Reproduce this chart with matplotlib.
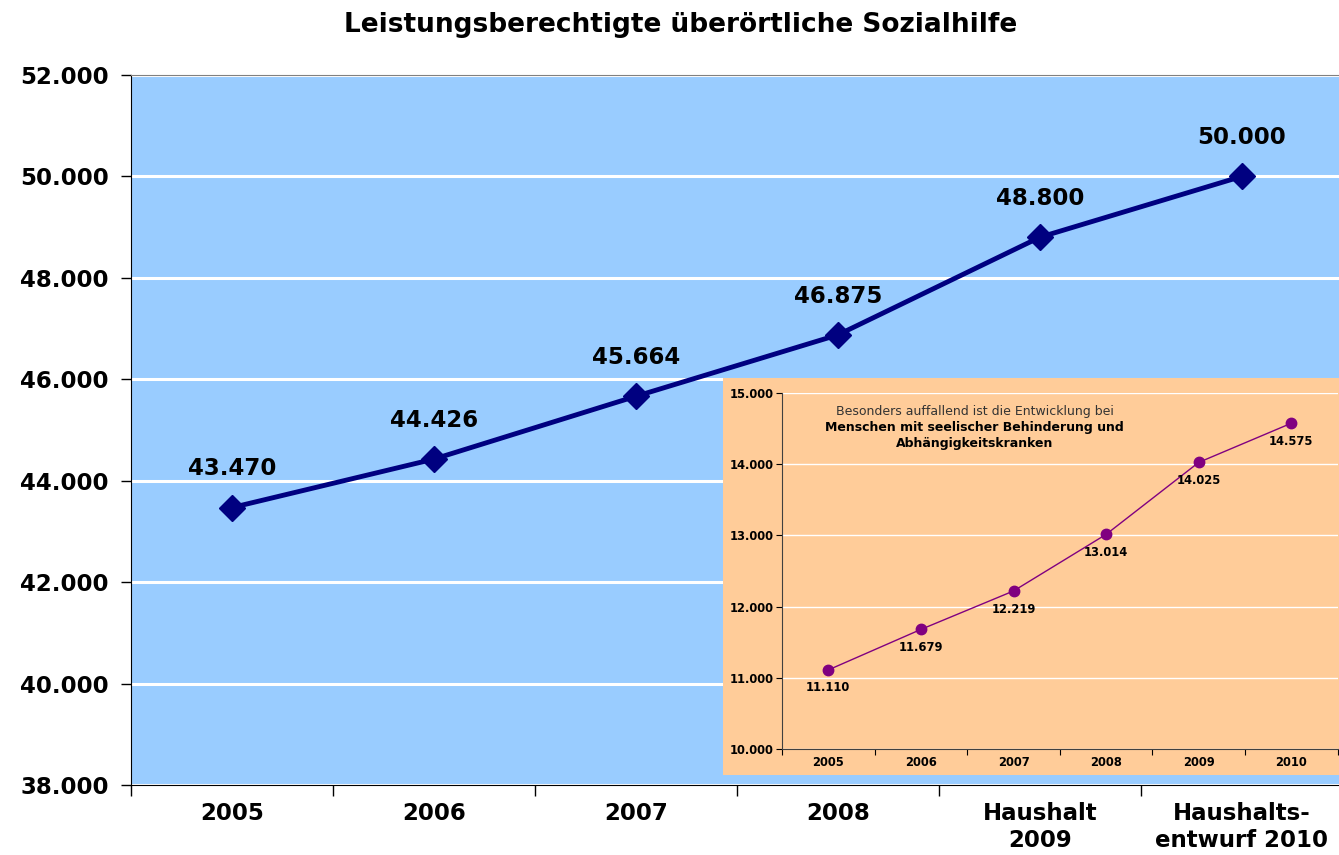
import matplotlib
matplotlib.use('Agg')
import matplotlib.pyplot as plt

# Main chart data.
categories = ['2005', '2006', '2007', '2008', 'Haushalt\n2009', 'Haushalts-\nentwurf 2010']
values = [43470, 44426, 45664, 46875, 48800, 50000]
value_labels = ['43.470', '44.426', '45.664', '46.875', '48.800', '50.000']
y_ticks = [38000, 40000, 42000, 44000, 46000, 48000, 50000, 52000]
y_tick_labels = ['38.000', '40.000', '42.000', '44.000', '46.000', '48.000', '50.000', '52.000']

# Inset data.
inset_years = ['2005', '2006', '2007', '2008', '2009', '2010']
inset_values = [11110, 11679, 12219, 13014, 14025, 14575]
inset_labels = ['11.110', '11.679', '12.219', '13.014', '14.025', '14.575']
inset_ticks = [10000, 11000, 12000, 13000, 14000, 15000]
inset_tick_labels = ['10.000', '11.000', '12.000', '13.000', '14.000', '15.000']

plt.rcParams['font.family'] = ['DejaVu Sans']

fig = plt.figure(figsize=(13.39, 8.55), dpi=100)
fig.patch.set_facecolor('white')

# Main axes.
ax = fig.add_axes([0.0978, 0.0819, 0.905, 0.8304])
ax.set_facecolor('#99CCFF')
x = list(range(len(values)))
ax.plot(x, values, color='#000080', lw=3.5, marker='D', markersize=13,
        markerfacecolor='#000080', markeredgecolor='#000080', zorder=3)
for xi, v, lab in zip(x, values, value_labels):
    ax.annotate(lab, (xi, v), xytext=(0, 28), textcoords='offset points',
                ha='center', va='center', fontsize=16.5, fontweight='bold', color='black')

ax.set_xlim(-0.5, len(values) - 0.5)
ax.set_ylim(38000, 52000)
ax.set_yticks(y_ticks)
ax.set_yticklabels(y_tick_labels, fontsize=16.5, fontweight='bold')
ax.set_xticks(x)
ax.set_xticklabels(categories, fontsize=16.5, fontweight='bold', linespacing=1.25)
ax.set_xticks([i - 0.5 for i in range(len(values) + 1)], minor=True)
ax.tick_params(axis='x', which='major', length=0, pad=12)
ax.tick_params(axis='x', which='minor', length=8, width=1, direction='out')
ax.tick_params(axis='y', length=7, width=1, direction='out', pad=9)
ax.grid(axis='y', color='white', lw=2.2)
ax.set_axisbelow(True)
ax.spines['left'].set_color('black')
ax.spines['bottom'].set_color('black')
ax.spines['top'].set_color('#808080')
ax.spines['right'].set_visible(False)

fig.text(0.508, 0.971, 'Leistungsberechtigte überörtliche Sozialhilfe',
         ha='center', va='center', fontsize=19, fontweight='bold')

# Inset background box.
bg = fig.add_axes([0.540, 0.0936, 0.461, 0.4643])
bg.set_facecolor('#FFCC99')
bg.set_xticks([])
bg.set_yticks([])
for s in bg.spines.values():
    s.set_visible(False)

# Inset axes.
ins = fig.add_axes([0.584, 0.124, 0.415, 0.4164])
ins.set_facecolor('#FFCC99')
xi = list(range(len(inset_values)))
ins.plot(xi, inset_values, color='#800080', lw=1, marker='o', markersize=7.5,
         markerfacecolor='#800080', markeredgecolor='#800080', zorder=3)
for px, v, lab in zip(xi, inset_values, inset_labels):
    ins.annotate(lab, (px, v), xytext=(0, -13), textcoords='offset points',
                 ha='center', va='center', fontsize=8.3, fontweight='bold', color='black')
ins.set_xlim(-0.5, len(inset_values) - 0.5)
ins.set_ylim(10000, 15000)
ins.set_yticks(inset_ticks)
ins.set_yticklabels(inset_tick_labels, fontsize=8.3, fontweight='bold')
ins.set_xticks(xi)
ins.set_xticklabels(inset_years, fontsize=8.3, fontweight='bold')
ins.set_xticks([i - 0.5 for i in range(len(inset_values) + 1)], minor=True)
ins.tick_params(axis='x', which='major', length=0, pad=5)
ins.tick_params(axis='x', which='minor', length=4, width=0.8, direction='out')
ins.tick_params(axis='y', length=4, width=0.8, direction='out', pad=2)
ins.grid(axis='y', color='white', lw=1)
ins.set_axisbelow(True)
ins.spines['left'].set_color('#404040')
ins.spines['bottom'].set_color('#404040')
ins.spines['top'].set_visible(False)
ins.spines['right'].set_visible(False)

ins.text(0.347, 0.949, 'Besonders auffallend ist die Entwicklung bei',
         transform=ins.transAxes, ha='center', va='center', fontsize=9, color='#333333')
ins.text(0.347, 0.902, 'Menschen mit seelischer Behinderung und',
         transform=ins.transAxes, ha='center', va='center', fontsize=9, fontweight='bold')
ins.text(0.347, 0.857, 'Abhängigkeitskranken',
         transform=ins.transAxes, ha='center', va='center', fontsize=9, fontweight='bold')

fig.savefig('out.png', dpi=100)
